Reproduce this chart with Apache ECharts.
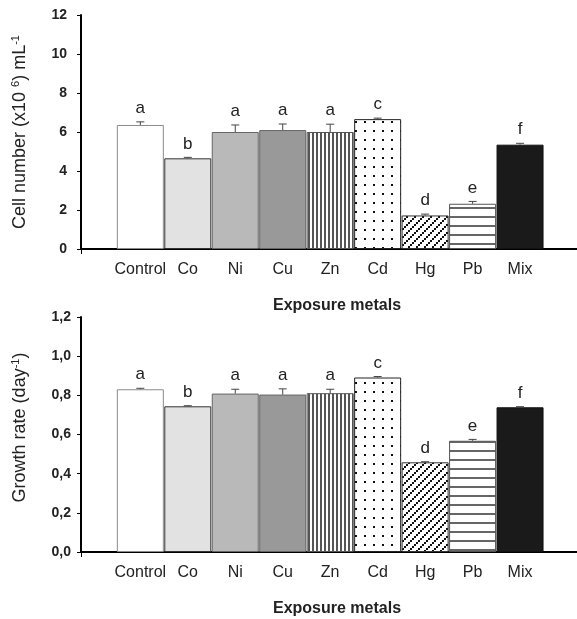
<!DOCTYPE html>
<html>
<head>
<meta charset="utf-8">
<script src="https://cdn.jsdelivr.net/npm/echarts@6/dist/echarts.min.js"></script>
<style>
  html, body { margin: 0; padding: 0; background: #fff; }
  #chart { width: 577px; height: 619px; }
</style>
</head>
<body>
<div id="chart"></div>
<script>
// data
var categories = ["Control", "Co", "Ni", "Cu", "Zn", "Cd", "Hg", "Pb", "Mix"];
var cellMean = [6.36, 4.65, 6.00, 6.10, 6.00, 6.66, 1.72, 2.32, 5.35];
var cellErr = [0.16, 0.05, 0.36, 0.31, 0.40, 0.05, 0.07, 0.12, 0.07];
var cellLetters = ["a", "b", "a", "a", "a", "c", "d", "e", "f"];
var rateMean = [0.831, 0.744, 0.809, 0.804, 0.811, 0.891, 0.458, 0.568, 0.739];
var rateErr = [0.005, 0.003, 0.022, 0.029, 0.020, 0.005, 0.003, 0.007, 0.003];
var rateLetters = ["a", "b", "a", "a", "a", "c", "d", "e", "f"];
var cellTicks = [0, 2, 4, 6, 8, 10, 12];
var rateTicks = [0, 0.2, 0.4, 0.6, 0.8, 1.0, 1.2];

var SANS = "'Liberation Sans', Arial, sans-serif";

function makePattern(w, h, draw) {
    var c = document.createElement("canvas");
    c.width = w;
    c.height = h;
    var ctx = c.getContext("2d");
    ctx.fillStyle = "#fff";
    ctx.fillRect(0, 0, w, h);
    draw(ctx);
    return { image: c, repeat: "repeat" };
}

// bar fills, one per category
var fills = [
    { color: "#ffffff", border: "#8a8a8a" },
    { color: "#e2e2e2", border: "#333333" },
    { color: "#b9b9b9", border: "#666666" },
    { color: "#999999", border: "#666666" },
    {
        color: makePattern(4, 4, function (ctx) {
            ctx.fillStyle = "#555";
            ctx.fillRect(0, 0, 2, 4);
        }), border: "#555555"
    },
    {
        color: makePattern(9, 9, function (ctx) {
            ctx.fillStyle = "#111";
            ctx.fillRect(4, 4, 2, 2);
        }), border: "#222222"
    },
    {
        color: makePattern(8, 8, function (ctx) {
            ctx.fillStyle = "#111";
            for (var k = 0; k < 4; k++) {
                ctx.fillRect(k * 2, 6 - k * 2, 2, 2);
            }
        }), border: "#333333"
    },
    {
        color: makePattern(9, 9, function (ctx) {
            ctx.fillStyle = "#666";
            ctx.fillRect(0, 0, 9, 2);
        }), border: "#555555"
    },
    { color: "#1a1a1a", border: "#111111" }
];

var xMin = -1.25;
var xMax = 9.2;

function barData(values) {
    return values.map(function (v, i) {
        return {
            value: [i, v],
            itemStyle: { color: fills[i].color, borderColor: fills[i].border, borderWidth: 1 }
        };
    });
}

function errData(means, errs) {
    return means.map(function (v, i) {
        return [i, v, errs[i]];
    });
}

// error whisker + significance letter above it
function errRender(letters) {
    return function (params, api) {
        var x = api.value(0);
        var m = api.value(1);
        var e = api.value(2);
        var p0 = api.coord([x, m]);
        var p1 = api.coord([x, m + e]);
        var st = { stroke: "#444", lineWidth: 1 };
        return {
            type: "group",
            children: [
                { type: "line", shape: { x1: p0[0], y1: p0[1], x2: p1[0], y2: p1[1] }, style: st },
                { type: "line", shape: { x1: p1[0] - 4, y1: p1[1], x2: p1[0] + 4, y2: p1[1] }, style: st },
                {
                    type: "text",
                    x: p1[0], y: p1[1] - 5,
                    style: {
                        text: letters[params.dataIndex],
                        font: "17px " + SANS,
                        fill: "#222",
                        textAlign: "center",
                        textVerticalAlign: "bottom"
                    }
                }
            ]
        };
    };
}

function xAxisDef(gridIndex) {
    return {
        type: "value",
        gridIndex: gridIndex,
        min: xMin,
        max: xMax,
        axisLine: { onZero: false, lineStyle: { color: "#000", width: 2 } },
        axisTick: { show: true, customValues: [xMin], length: 5, lineStyle: { color: "#000", width: 1 } },
        splitLine: { show: false },
        axisLabel: {
            customValues: [0, 1, 2, 3, 4, 5, 6, 7, 8],
            margin: 13,
            color: "#222",
            fontSize: 16,
            fontFamily: SANS,
            formatter: function (v) {
                return categories[Math.round(v)];
            }
        },
        name: "Exposure metals",
        nameLocation: "middle",
        nameGap: 49,
        nameTextStyle: {
            fontSize: 16,
            fontWeight: "bold",
            fontFamily: SANS,
            color: "#222",
            padding: [0, 0, 0, 16]
        }
    };
}

function yAxisDef(gridIndex, ticks, name, margin, namePad, fmt) {
    return {
        type: "value",
        gridIndex: gridIndex,
        min: ticks[0],
        max: ticks[ticks.length - 1],
        interval: ticks[1] - ticks[0],
        axisLine: { show: true, onZero: false, lineStyle: { color: "#000", width: 2 } },
        axisTick: { show: true, length: 4, lineStyle: { color: "#000", width: 1 } },
        splitLine: { show: false },
        axisLabel: {
            margin: margin,
            color: "#222",
            fontSize: 14,
            fontWeight: "bold",
            fontFamily: SANS,
            formatter: fmt
        },
        name: name,
        nameLocation: "middle",
        nameGap: 51,
        nameTextStyle: {
            fontSize: 18,
            fontFamily: SANS,
            color: "#222",
            lineHeight: 20,
            padding: namePad,
            rich: {
                sup: { fontSize: 11, fontFamily: SANS, color: "#222", verticalAlign: "top", lineHeight: 12 }
            }
        }
    };
}

var chart = echarts.init(document.getElementById("chart"), null, { renderer: "canvas" });

chart.setOption({
    animation: false,
    backgroundColor: "#fff",
    grid: [
        { left: 81, right: 0, top: 15, height: 234 },
        { left: 81, right: 0, top: 317, height: 235 }
    ],
    xAxis: [xAxisDef(0), xAxisDef(1)],
    yAxis: [
        yAxisDef(0, cellTicks, "Cell number (x10 {sup|6}) mL{sup|-1}", 14, 0, function (v) {
            return String(v);
        }),
        yAxisDef(1, rateTicks, "Growth rate (day{sup|-1})", 10, [0, 0, 0, 14], function (v) {
            return v.toFixed(1).replace(".", ",");
        })
    ],
    series: [
        {
            type: "bar",
            xAxisIndex: 0, yAxisIndex: 0,
            barWidth: 47,
            data: barData(cellMean)
        },
        {
            type: "custom",
            xAxisIndex: 0, yAxisIndex: 0,
            renderItem: errRender(cellLetters),
            data: errData(cellMean, cellErr),
            z: 5
        },
        {
            type: "bar",
            xAxisIndex: 1, yAxisIndex: 1,
            barWidth: 47,
            data: barData(rateMean)
        },
        {
            type: "custom",
            xAxisIndex: 1, yAxisIndex: 1,
            renderItem: errRender(rateLetters),
            data: errData(rateMean, rateErr),
            z: 5
        }
    ]
});
</script>
</body>
</html>
